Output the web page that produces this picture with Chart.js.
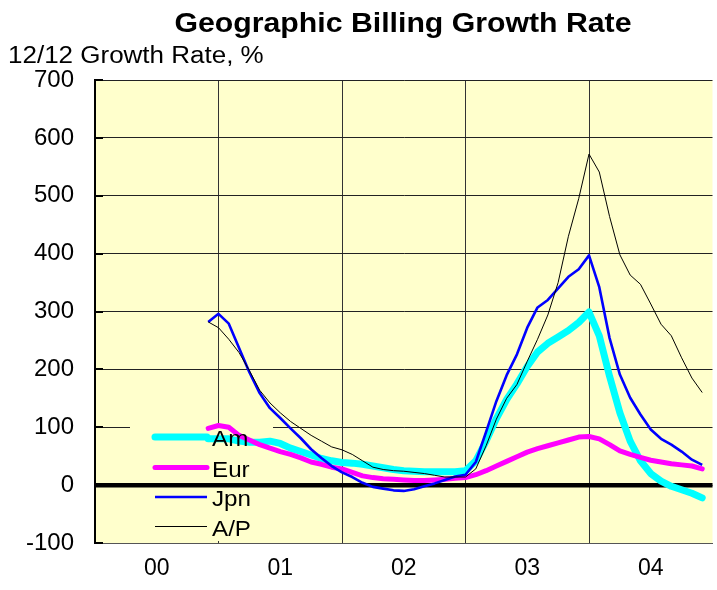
<!DOCTYPE html>
<html>
<head>
<meta charset="utf-8">
<script src="https://cdn.jsdelivr.net/npm/chart.js@4"></script>
<style>
html,body{margin:0;padding:0;background:#fff;}
#wrap{width:717px;height:590px;}
</style>
</head>
<body>
<div id="wrap"><canvas id="c" width="717" height="590"></canvas></div>
<script>
// ---- data (monthly, index 0 = Jan 2000) ----
const startMonth = 11;
const yearLabels = ["00", "01", "02", "03", "04"];
const seriesNames = ["Am", "Eur", "Jpn", "A/P"];
const am  = [80,80,80,76,74,74,76,72,64,58,52,46,42,39, 38,36,33,30,27,25,24,23,23,23,23,25, 42,76,115,148,175,205,230,245,256,267,281,299, 258,188,125,76,42,20,7,-2,-8,-14,-22];
const eur = [98,103,100,86,78,70,64,58,53,47,40,36,31,28, 22,16,13,11,10,9,8,8,9,10,12,13, 18,25,33,41,49,57,63,68,73,78,83,84, 80,70,59,53,48,43,40,37,35,33,28];
const jpn = [282,296,279,237,195,159,133,116,98,81,62,47,33,22, 14,4,-3,-6,-9,-10,-7,-2,3,9,15,18, 40,92,145,190,226,272,307,320,340,360,373,397, 342,254,191,151,122,96,80,70,58,44,35];
const ap  = [282,272,252,229,198,164,142,125,110,98,86,76,66,61, 53,42,31,27,25,24,22,20,17,14,14,14, 28,68,114,150,174,214,252,294,350,430,495,572, 541,464,398,363,347,313,278,258,220,185,160];

const toPts = arr => arr.map((v, k) => ({x: startMonth + k, y: v}));

const FONT = "'Liberation Sans', Arial, Helvetica, sans-serif";
const styles = [
  {color: "#00FFFF", width: 7},
  {color: "#FF00FF", width: 5},
  {color: "#0000FF", width: 2.6},
  {color: "#000000", width: 1}
];
const allSeries = [am, eur, jpn, ap];

const legendBox = {x: 130, y: 424, w: 143, h: 117};

function stretchedText(ctx, text, x, y, align, sx) {
  ctx.save();
  ctx.translate(x, y);
  ctx.scale(sx, 1);
  ctx.textAlign = align;
  ctx.fillText(text, 0, 0);
  ctx.restore();
}

const decor = {
  id: "decor",
  beforeDraw(chart) {
    const {ctx, chartArea: a} = chart;
    ctx.save();
    ctx.fillStyle = "#FFFFCC";
    ctx.fillRect(a.left, a.top, a.right - a.left, a.bottom - a.top);
    ctx.restore();
  },
  beforeDatasetsDraw(chart) {
    const {ctx, chartArea: a, scales} = chart;
    ctx.save();
    ctx.fillStyle = "#FFFFCC";
    ctx.fillRect(legendBox.x, legendBox.y, legendBox.w, legendBox.h);
    // inward tick marks on the value axis
    ctx.strokeStyle = "#000";
    ctx.lineWidth = 2;
    scales.y.ticks.forEach(t => {
      const py = Math.round(scales.y.getPixelForValue(t.value));
      ctx.beginPath();
      ctx.moveTo(a.left, py);
      ctx.lineTo(a.left + 8, py);
      ctx.stroke();
    });
    const y0 = scales.y.getPixelForValue(0);
    ctx.lineWidth = 4.5;
    ctx.beginPath();
    ctx.moveTo(a.left, y0);
    ctx.lineTo(a.right, y0);
    ctx.stroke();
    ctx.restore();
  },
  afterDatasetsDraw(chart) {
    const {ctx} = chart;
    ctx.save();
    const ys = [437, 467.5, 497, 526.5];
    ctx.font = "22px " + FONT;
    ctx.textBaseline = "middle";
    seriesNames.forEach((n, i) => {
      ctx.strokeStyle = styles[i].color;
      ctx.lineWidth = styles[i].width;
      ctx.lineCap = i < 2 ? "round" : "butt";
      ctx.beginPath();
      ctx.moveTo(155, ys[i]);
      ctx.lineTo(207, ys[i]);
      ctx.stroke();
      ctx.fillStyle = "#000";
      stretchedText(ctx, n, 212, ys[i] + 3, "left", 1.1);
    });
    ctx.restore();
  },
  afterDraw(chart) {
    const {ctx} = chart;
    ctx.save();
    ctx.fillStyle = "#000";
    ctx.textBaseline = "alphabetic";
    ctx.font = "bold 27px " + FONT;
    stretchedText(ctx, "Geographic Billing Growth Rate", 403, 32, "center", 1.12);
    ctx.font = "23px " + FONT;
    stretchedText(ctx, "12/12 Growth Rate, %", 8, 63, "left", 1.13);
    ctx.restore();
  }
};

new Chart(document.getElementById("c"), {
  type: "line",
  data: {
    datasets: allSeries.map((arr, i) => ({
      label: seriesNames[i],
      data: toPts(arr),
      borderColor: styles[i].color,
      backgroundColor: styles[i].color,
      borderWidth: styles[i].width,
      pointRadius: 0,
      tension: 0,
      fill: false,
      borderJoinStyle: "round",
      borderCapStyle: i < 2 ? "round" : "butt",
      order: 4 - i
    }))
  },
  options: {
    responsive: false,
    animation: false,
    devicePixelRatio: 1,
    layout: {padding: {top: 80, right: 4.5, bottom: 0, left: 0}},
    plugins: {legend: {display: false}, title: {display: false}, tooltip: {enabled: false}},
    scales: {
      x: {
        type: "linear",
        min: 0,
        max: 60,
        afterBuildTicks(scale) {
          const t = [];
          for (let v = 0; v <= 60; v += 6) t.push({value: v});
          scale.ticks = t;
        },
        afterFit(scale) {
          scale.height = 47;
          scale.paddingLeft = 0;
          scale.paddingRight = 0;
        },
        grid: {
          drawTicks: false,
          color: c => (c.tick && c.tick.value % 12 === 0 && c.tick.value > 0 && c.tick.value < 60) ? "#333" : "rgba(0,0,0,0)",
          lineWidth: 1
        },
        border: {display: true, color: "#555", width: 1},
        ticks: {
          autoSkip: false,
          maxRotation: 0,
          padding: 12,
          color: "#000",
          font: {family: FONT, size: 23},
          callback: v => (v % 12 === 6) ? yearLabels[(v - 6) / 12] : ""
        }
      },
      y: {
        min: -100,
        max: 700,
        afterFit(scale) { scale.width = 95; },
        ticks: {
          stepSize: 100,
          padding: 21,
          color: "#000",
          font: {family: FONT, size: 24}
        },
        grid: {drawTicks: false, color: "#222", lineWidth: 1},
        border: {display: true, color: "#000", width: 2}
      }
    }
  },
  plugins: [decor]
});
</script>
</body>
</html>
